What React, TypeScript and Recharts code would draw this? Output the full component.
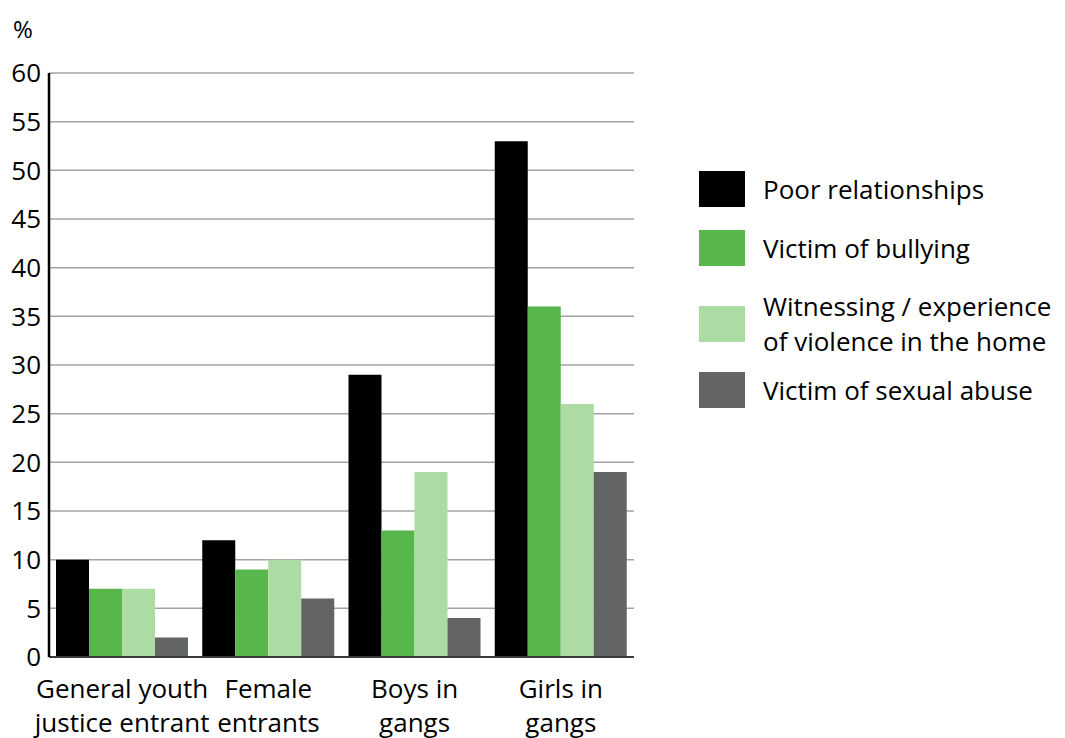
import React from "react"
import { BarChart, Bar, XAxis, YAxis, CartesianGrid } from "recharts"

// Risk factors by group, in percent
const categoryLines = [
  ["General youth", "justice entrant"],
  ["Female", "entrants"],
  ["Boys in", "gangs"],
  ["Girls in", "gangs"],
]
const poorRelationships = [10, 12, 29, 53]
const victimOfBullying = [7, 9, 13, 36]
const violenceInHome = [7, 10, 19, 26]
const sexualAbuse = [2, 6, 4, 19]
const yTicks = [0, 5, 10, 15, 20, 25, 30, 35, 40, 45, 50, 55, 60]

const seriesKeys = ["poor", "bullying", "violence", "abuse"]
const seriesLabels = [
  ["Poor relationships"],
  ["Victim of bullying"],
  ["Witnessing / experience", "of violence in the home"],
  ["Victim of sexual abuse"],
]
const seriesColors = ["#000000", "#57b74b", "#acdca3", "#636466"]

const FONT = "'Open Sans', sans-serif"

const data = categoryLines.map((lines, i) => ({
  name: lines.join(" "),
  lines,
  poor: poorRelationships[i],
  bullying: victimOfBullying[i],
  violence: violenceInHome[i],
  abuse: sexualAbuse[i],
}))

function CategoryTick(props: any) {
  const { x, y, payload } = props
  const lines = data[payload.index]?.lines ?? [payload.value]
  return (
    <text x={x} y={y} textAnchor="middle" fill="#000" fontFamily={FONT} fontSize={26}>
      {lines.map((line: string, i: number) => (
        <tspan key={i} x={x} dy={i === 0 ? 33 : 34}>
          {line}
        </tspan>
      ))}
    </text>
  )
}

// vertical offsets of each legend row
const rowTops = [0, 59, 118, 201]

function SeriesLegend() {
  return (
    <div style={{ position: "absolute", left: 699, top: 171, width: 366, height: 240, fontFamily: FONT, fontSize: 26, color: "#000" }}>
      {seriesLabels.map((lines, i) => {
        const h = lines.length * 35
        return (
          <div key={seriesKeys[i]} style={{ position: "absolute", left: 0, top: rowTops[i], height: Math.max(h, 36), display: "flex", alignItems: "center" }}>
            <div style={{ width: 46, height: 36, background: seriesColors[i], flexShrink: 0 }} />
            <div style={{ marginLeft: 18, lineHeight: "35px", whiteSpace: "nowrap" }}>
              {lines.map((l, j) => (
                <div key={j}>{l}</div>
              ))}
            </div>
          </div>
        )
      })}
    </div>
  )
}

export default function App() {
  return (
    <div style={{ position: "absolute", left: 0, top: 0, width: 1065, height: 738, background: "#fff", overflow: "hidden" }}>
      <div style={{ position: "absolute", left: 13, top: 12, fontFamily: FONT, fontSize: 24, color: "#000" }}>%</div>
      <BarChart
        width={1065}
        height={738}
        data={data}
        margin={{ top: 73, right: 431, bottom: 0, left: 0 }}
        barCategoryGap={7}
        barGap={0}
      >
        <CartesianGrid vertical={false} stroke="#a3a3a3" strokeWidth={1.5} />
        <XAxis
          dataKey="name"
          height={81}
          tickLine={false}
          axisLine={{ stroke: "#3a3a3a", strokeWidth: 2 }}
          tick={<CategoryTick />}
          interval={0}
        />
        <YAxis
          width={49}
          domain={[0, 60]}
          ticks={yTicks}
          tickLine={false}
          axisLine={{ stroke: "#000", strokeWidth: 2.5 }}
          tick={{ fill: "#000", fontSize: 26, fontFamily: FONT }}
          interval={0}
        />
        {seriesKeys.map((k, i) => (
          <Bar key={k} dataKey={k} name={seriesLabels[i].join(" ")} fill={seriesColors[i]} isAnimationActive={false} />
        ))}
      </BarChart>
      <SeriesLegend />
    </div>
  )
}
